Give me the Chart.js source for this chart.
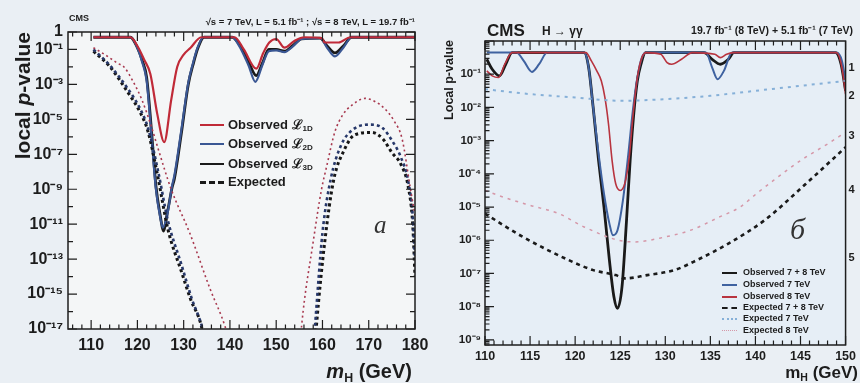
<!doctype html>
<html lang="en">
<head>
<meta charset="UTF-8" />
<title>CMS local p-value</title>
<script src="https://cdn.jsdelivr.net/npm/chart.js"></script>
<style>
  html, body { margin: 0; padding: 0; }
  body { width: 860px; height: 383px; position: relative; overflow: hidden; background: #eaeff4;
         font-family: "Liberation Sans", Arial, sans-serif; color: #1c1c1c; }
  canvas { position: absolute; top: 0; }
  #chart-left { left: 0; }
  #chart-right { left: 440px; }
  .t { position: absolute; white-space: nowrap; font-weight: bold; line-height: 1; }
  .rot { transform-origin: left top; transform: rotate(-90deg); text-align: right; }
  .sub { font-size: 62%; vertical-align: -0.3em; }
  .ser { font-family: "Liberation Serif", serif; font-style: italic; font-weight: normal; color: #333; }
  .ls { position: absolute; height: 0; }
</style>
</head>
<body>
<canvas id="chart-left" width="440" height="383"></canvas>
<canvas id="chart-right" width="420" height="383"></canvas>

<!-- left panel text -->
<div class="t" style="left:69px;top:14px;font-size:9px;">CMS</div>
<div class="t" style="right:445px;top:17px;font-size:9.5px;">√s = 7 TeV, L = 5.1 fb⁻¹ ; √s = 8 TeV, L = 19.7 fb⁻¹</div>
<div class="t rot" style="left:12px;top:232px;width:200px;font-size:21px;">local <i>p</i>-value</div>
<div class="t" style="right:448px;top:361px;font-size:20px;"><i>m</i><span class="sub">H</span> (GeV)</div>
<div class="t ser" style="left:374px;top:212px;font-size:25px;">a</div>

<div class="ls" style="left:200px;top:124px;width:24px;border-top:2.5px solid #c02a38;"></div>
<div class="ls" style="left:200px;top:143px;width:24px;border-top:2.5px solid #3a5794;"></div>
<div class="ls" style="left:200px;top:163px;width:24px;border-top:2.5px solid #1a1a1a;"></div>
<div class="ls" style="left:200px;top:181px;width:24px;border-top:3px dashed #1a1a1a;"></div>
<div class="t" style="left:228px;top:118px;font-size:13px;">Observed ℒ<span class="sub">1D</span></div>
<div class="t" style="left:228px;top:137px;font-size:13px;">Observed ℒ<span class="sub">2D</span></div>
<div class="t" style="left:228px;top:157px;font-size:13px;">Observed ℒ<span class="sub">3D</span></div>
<div class="t" style="left:228px;top:175px;font-size:13px;">Expected</div>

<!-- right panel text -->
<div class="t" style="left:487px;top:22px;font-size:17px;">CMS</div>
<div class="t" style="left:542px;top:25px;font-size:12px;">H → γγ</div>
<div class="t" style="right:7px;top:25px;font-size:10.5px;">19.7 fb⁻¹ (8 TeV) + 5.1 fb⁻¹ (7 TeV)</div>
<div class="t rot" style="left:443px;top:190px;width:150px;font-size:12.5px;">Local p-value</div>
<div class="t" style="right:2px;top:364px;font-size:17px;">m<span class="sub">H</span> (GeV)</div>
<div class="t ser" style="left:790px;top:214px;font-size:30px;">б</div>

<div class="ls" style="left:722px;top:272px;width:15px;border-top:2.5px solid #1a1a1a;"></div>
<div class="ls" style="left:722px;top:284px;width:15px;border-top:2px solid #3f62a0;"></div>
<div class="ls" style="left:722px;top:296px;width:15px;border-top:2px solid #b8343f;"></div>
<div class="ls" style="left:722px;top:307px;width:15px;border-top:2.5px dashed #1a1a1a;"></div>
<div class="ls" style="left:722px;top:318px;width:15px;border-top:2px dotted #86b0d8;"></div>
<div class="ls" style="left:722px;top:330px;width:15px;border-top:1.5px dotted #d597a8;"></div>
<div class="t" style="left:743px;top:268px;font-size:9px;">Observed 7 + 8 TeV</div>
<div class="t" style="left:743px;top:280px;font-size:9px;">Observed 7 TeV</div>
<div class="t" style="left:743px;top:292px;font-size:9px;">Observed 8 TeV</div>
<div class="t" style="left:743px;top:303px;font-size:9px;">Expected 7 + 8 TeV</div>
<div class="t" style="left:743px;top:314px;font-size:9px;">Expected 7 TeV</div>
<div class="t" style="left:743px;top:326px;font-size:9px;">Expected 8 TeV</div>

<script>
// ---- left panel (H -> ZZ -> 4l), values are log10(local p-value) ----
const leftTicksX = [110, 120, 130, 140, 150, 160, 170, 180];
const leftTicksExp = [0, -1, -3, -5, -7, -9, -11, -13, -15, -17];

const massObs1D = [110.5,118.5,120,121.5,122.8,124.3,125.8,127.3,128.6,130,131.5,133.8,141,143,145.7,147.2,148.5,150,151.8,154,156,159.8,160.5,163.5,166,180];
const logObs1D  = [-0.3,-0.3,-0.8,-1.6,-2.4,-4.7,-6.3,-3.9,-2.0,-1.3,-0.9,-0.3,-0.3,-1.0,-2.1,-1.2,-0.6,-0.4,-0.9,-0.5,-0.3,-0.35,-0.6,-0.6,-0.3,-0.3];

const massObs2D = [110.5,118.5,120,121,122,123,124,125,125.5,126.5,127.5,128,129.5,131,132,133,134.3,140.5,142,144,145.5,147,148.4,150,151.8,153.5,155.5,159.5,161,162.7,164.5,166.3,180];
const logObs2D  = [-0.3,-0.3,-0.9,-1.7,-2.8,-5.8,-9.0,-10.7,-11.2,-10.4,-8.8,-8.2,-5.6,-2.9,-1.8,-0.9,-0.3,-0.3,-0.8,-1.9,-2.85,-1.9,-1.1,-1.05,-1.15,-0.85,-0.4,-0.35,-0.9,-1.4,-0.9,-0.3,-0.3];

const massObs3D = [110.5,118.5,120,121,122,123,124,125,125.6,126.5,127.5,128,129.5,131,132,133.1,134.4,140.5,142,144,145.7,147,148.4,150,151.8,153.5,155.5,159.5,161,162.7,164.5,166.3,180];
const logObs3D  = [-0.3,-0.3,-0.9,-1.6,-2.6,-5.5,-8.8,-10.6,-11.4,-10.3,-8.9,-8.4,-5.8,-3.0,-1.9,-0.9,-0.3,-0.3,-0.7,-1.7,-2.5,-1.8,-1.0,-1.0,-1.1,-0.8,-0.4,-0.35,-0.8,-1.2,-0.8,-0.3,-0.3];

const massExp1D = [110.5,113,115.8,117.1,119,121,123,124.5,127.3,131.3,135.7,139,139.6,147,155.3,155.5,158,159.8,160.9,162.7,164.5,166.3,169.2,171.5,173.5,175.5,177.2,178.9,180];
const logExp1D  = [-0.9,-1.3,-1.8,-2.0,-2.8,-3.9,-5.4,-6.7,-9.0,-11.5,-14.7,-16.9,-17.5,null,-17.5,-16.8,-12,-9.0,-7.7,-5.7,-4.7,-4.2,-3.8,-4.0,-4.4,-5.1,-6.1,-8.8,-10.5];

const massExp2D = [110.5,114,117.8,120.6,122.3,124.5,126.6,129.5,131.8,134,134.5,146,158.2,158.4,160,161.8,164,166.5,170.5,173,175,177,178.5,179.5,180];
const logExp2D  = [-1.0,-1.9,-3.2,-4.4,-5.5,-8.0,-10.8,-13.3,-15.3,-16.9,-17.5,null,-17.5,-16.8,-11.5,-8.4,-6.5,-5.6,-5.3,-5.5,-6.2,-7.2,-8.5,-10.5,-13];

const massExp3D = [110.5,114.1,117.8,120.6,122.3,124.5,126.6,129.5,131.5,133.8,134.3,146,158.5,158.7,160.5,162.4,164.8,166.9,170.6,173,175,177,178.5,179.5,180];
const logExp3D  = [-1.1,-2.0,-3.4,-4.6,-5.7,-8.4,-11.3,-13.7,-15.3,-16.8,-17.5,null,-17.5,-16.8,-12.0,-8.5,-6.7,-5.9,-5.75,-6.1,-6.9,-7.6,-8.8,-11,-14];

// ---- right panel (H -> gamma gamma) ----
const rightTicksX = [110, 115, 120, 125, 130, 135, 140, 145, 150];
const rightTicksExp = [-1, -2, -3, -4, -5, -6, -7, -8, -9];
const sigmaLabels = ['1', '2', '3', '4', '5'];
const sigmaPValues = [0.1587, 0.02275, 1.35e-3, 3.17e-5, 2.87e-7];

const massObs78 = [110.2,110.8,111.6,112.3,113,121,121.5,122,122.6,123.2,123.8,124.3,124.7,125.2,125.7,126.1,126.5,126.9,127.3,127.8,134.3,135.2,136.1,137,137.6,148.9,149.5,150];
const logObs78  = [-0.55,-0.85,-1.05,-0.7,-0.35,-0.35,-0.8,-2.0,-3.6,-5.0,-6.6,-7.7,-8.05,-7.4,-5.4,-3.6,-2.2,-1.2,-0.7,-0.35,-0.35,-0.55,-0.7,-0.55,-0.35,-0.35,-0.7,-1.5];

const massObs7 = [110.2,113.5,114.3,115.2,116,116.9,121,121.5,122,122.6,123.2,123.8,124.2,124.7,125.3,125.9,126.4,126.9,127.4,127.9,134.5,135.2,135.8,136.5,137.4,149,149.6,150];
const logObs7  = [-0.35,-0.35,-0.6,-0.93,-0.7,-0.35,-0.35,-0.8,-2.0,-3.4,-4.6,-5.5,-5.85,-5.7,-4.8,-3.4,-2.1,-1.1,-0.5,-0.35,-0.35,-0.8,-1.15,-0.9,-0.35,-0.35,-0.6,-1.2];

const massObs8 = [110.2,110.8,111.5,112.2,113,121.2,121.8,122.4,122.9,123.3,123.7,124.1,124.5,125,125.5,126,126.4,126.9,127.4,127.9,129.5,130.2,130.7,131.8,133,135.5,136.1,136.8,137.5,149,149.6,150];
const logObs8  = [-0.9,-1.05,-1.1,-0.7,-0.35,-0.35,-0.6,-0.9,-1.2,-1.7,-2.5,-3.6,-4.3,-4.5,-4.3,-3.5,-2.3,-1.1,-0.5,-0.35,-0.4,-0.65,-0.7,-0.55,-0.35,-0.4,-0.5,-0.4,-0.35,-0.35,-0.8,-1.6];

const massExp78 = [110,114.2,119.3,122,124.5,125.5,128,131,133.5,137,141,145.6,150];
const logExp78  = [-5.2,-5.9,-6.6,-6.9,-7.05,-7.15,-7.05,-6.9,-6.6,-6.1,-5.4,-4.3,-3.2];

const massExp7 = [110,115,120,125,130,135,140,145,150];
const logExp7  = [-1.45,-1.6,-1.7,-1.8,-1.75,-1.65,-1.5,-1.35,-1.2];

const massExp8 = [110,112,115,118.2,121,124.8,126.6,130,132.8,136,138.3,140.1,142,145,148,150];
const logExp8  = [-4.5,-4.7,-4.95,-5.2,-5.6,-6.0,-6.05,-5.9,-5.7,-5.3,-5.0,-4.6,-4.2,-3.6,-3.1,-2.75];

// helpers
const SUP = { '-': '⁻', '0': '⁰', '1': '¹', '2': '²', '3': '³', '4': '⁴', '5': '⁵', '6': '⁶', '7': '⁷', '8': '⁸', '9': '⁹' };
const expLabel = v => {
  const e = Math.round(Math.log10(v));
  return e === 0 ? '1' : '10' + String(e).split('').map(c => SUP[c]).join('');
};
const pts = (mass, logp) => mass.map((m, i) => ({ x: m, y: logp[i] === null ? null : Math.pow(10, logp[i]) }));
const line = (label, mass, logp, color, width, dash) => ({
  label, data: pts(mass, logp), borderColor: color, borderWidth: width,
  borderDash: dash || [], pointRadius: 0, fill: false, cubicInterpolationMode: 'monotone'
});

// frame with inward ROOT-style ticks
const frame = {
  id: 'frame',
  beforeDraw(chart, args, o) {
    const { ctx, chartArea: a } = chart;
    ctx.save();
    ctx.fillStyle = o.fill;
    ctx.fillRect(a.left, a.top, a.right - a.left, a.bottom - a.top);
    ctx.restore();
  },
  afterDraw(chart, args, o) {
    const { ctx, chartArea: a, scales } = chart;
    const x = scales.x, y = scales.y;
    ctx.save();
    ctx.strokeStyle = '#1e1e1e';
    ctx.lineWidth = 1.5;
    ctx.strokeRect(a.left, a.top, a.right - a.left, a.bottom - a.top);
    ctx.beginPath();
    ctx.lineWidth = 1.2;
    for (let v = Math.ceil(x.min / o.xMinor) * o.xMinor; v <= x.max + 1e-9; v += o.xMinor) {
      const px = x.getPixelForValue(v);
      const r = v / o.xMajor;
      const len = Math.abs(r - Math.round(r)) < 1e-6 ? 9 : 4.5;
      ctx.moveTo(px, a.bottom); ctx.lineTo(px, a.bottom - len);
      ctx.moveTo(px, a.top); ctx.lineTo(px, a.top + len);
    }
    const lo = Math.floor(Math.log10(y.min)), hi = Math.ceil(Math.log10(y.max));
    for (let e = lo; e <= hi; e++) {
      const mults = o.logMinor ? [1, 2, 3, 4, 5, 6, 7, 8, 9] : [1];
      mults.forEach(m => {
        const v = m * Math.pow(10, e);
        if (v < y.min || v > y.max) return;
        const py = y.getPixelForValue(v);
        let len = m === 1 ? 9 : 4.5;
        if (!o.logMinor && o.labelled.indexOf(e) < 0) len = 5;
        ctx.moveTo(a.left, py); ctx.lineTo(a.left + len, py);
        if (o.mirrorY) { ctx.moveTo(a.right, py); ctx.lineTo(a.right - len, py); }
      });
    }
    ctx.stroke();
    ctx.restore();
  }
};

const tickFont = size => ({ family: 'Liberation Sans', size: size, weight: 'bold' });

new Chart(document.getElementById('chart-left'), {
  type: 'line',
  data: {
    datasets: [
      line('Expected 1D', massExp1D, logExp1D, '#a8394f', 1.6, [2, 3]),
      line('Expected 2D', massExp2D, logExp2D, '#27386a', 2.6, [3, 3]),
      line('Expected 3D', massExp3D, logExp3D, '#161616', 3, [3, 3]),
      line('Observed 1D', massObs1D, logObs1D, '#c02a38', 2.2),
      line('Observed 2D', massObs2D, logObs2D, '#3a5794', 2.2),
      line('Observed 3D', massObs3D, logObs3D, '#1a1a1a', 2.8)
    ]
  },
  options: {
    responsive: false, animation: false, devicePixelRatio: 1,
    layout: { padding: { top: 32, right: 25, left: 0, bottom: 0 } },
    plugins: {
      legend: { display: false }, tooltip: { enabled: false },
      frame: { fill: '#f4f6f7', xMajor: 10, xMinor: 2, logMinor: false, labelled: leftTicksExp, mirrorY: true }
    },
    scales: {
      x: {
        type: 'linear', min: 105, max: 180,
        grid: { display: false, drawTicks: false }, border: { display: false },
        afterBuildTicks: s => { s.ticks = leftTicksX.map(v => ({ value: v })); },
        afterFit: s => { s.height = 54; },
        ticks: { padding: 7, autoSkip: false, maxRotation: 0, color: '#1c1c1c', font: tickFont(16) }
      },
      y: {
        type: 'logarithmic', min: 1e-17, max: 1,
        grid: { display: false, drawTicks: false }, border: { display: false },
        afterBuildTicks: s => { s.ticks = leftTicksExp.map(e => ({ value: Math.pow(10, e) })); },
        afterFit: s => { s.width = 68; },
        ticks: { padding: 5, autoSkip: false, color: '#1c1c1c', font: tickFont(16), callback: v => expLabel(v) }
      }
    }
  },
  plugins: [frame]
});

new Chart(document.getElementById('chart-right'), {
  type: 'line',
  data: {
    datasets: [
      line('Expected 8 TeV', massExp8, logExp8, '#d597a8', 1.5, [3, 5]),
      line('Expected 7 TeV', massExp7, logExp7, '#86b0d8', 2, [3, 5]),
      line('Expected 7 + 8 TeV', massExp78, logExp78, '#1a1a1a', 2.6, [4, 4]),
      line('Observed 8 TeV', massObs8, logObs8, '#b8343f', 1.6),
      line('Observed 7 TeV', massObs7, logObs7, '#3f62a0', 2),
      line('Observed 7 + 8 TeV', massObs78, logObs78, '#1a1a1a', 2.8)
    ]
  },
  options: {
    responsive: false, animation: false, devicePixelRatio: 1,
    layout: { padding: { top: 41, right: 0, left: 0, bottom: 0 } },
    plugins: {
      legend: { display: false }, tooltip: { enabled: false },
      frame: { fill: '#e6eef6', xMajor: 5, xMinor: 1, logMinor: true, labelled: rightTicksExp, mirrorY: false }
    },
    scales: {
      x: {
        type: 'linear', min: 110, max: 150,
        grid: { display: false, drawTicks: false }, border: { display: false },
        afterBuildTicks: s => { s.ticks = rightTicksX.map(v => ({ value: v })); },
        afterFit: s => { s.height = 38; },
        ticks: { padding: 4, autoSkip: false, maxRotation: 0, color: '#1c1c1c', font: tickFont(12.5) }
      },
      y: {
        type: 'logarithmic', min: 7.4e-10, max: 1,
        grid: { display: false, drawTicks: false }, border: { display: false },
        afterBuildTicks: s => { s.ticks = rightTicksExp.map(e => ({ value: Math.pow(10, e) })); },
        afterFit: s => { s.width = 45; },
        ticks: { padding: 4, autoSkip: false, color: '#1c1c1c', font: tickFont(11.5), callback: v => expLabel(v) }
      },
      y2: {
        type: 'logarithmic', position: 'right', min: 7.4e-10, max: 1,
        grid: { display: false, drawTicks: false }, border: { display: false },
        afterBuildTicks: s => { s.ticks = sigmaPValues.map(v => ({ value: v })); },
        afterFit: s => { s.width = 10; },
        ticks: { padding: 3, autoSkip: false, color: '#1c1c1c', font: tickFont(11),
                 callback: (v, i) => sigmaLabels[i] }
      }
    }
  },
  plugins: [frame]
});
</script>
</body>
</html>
